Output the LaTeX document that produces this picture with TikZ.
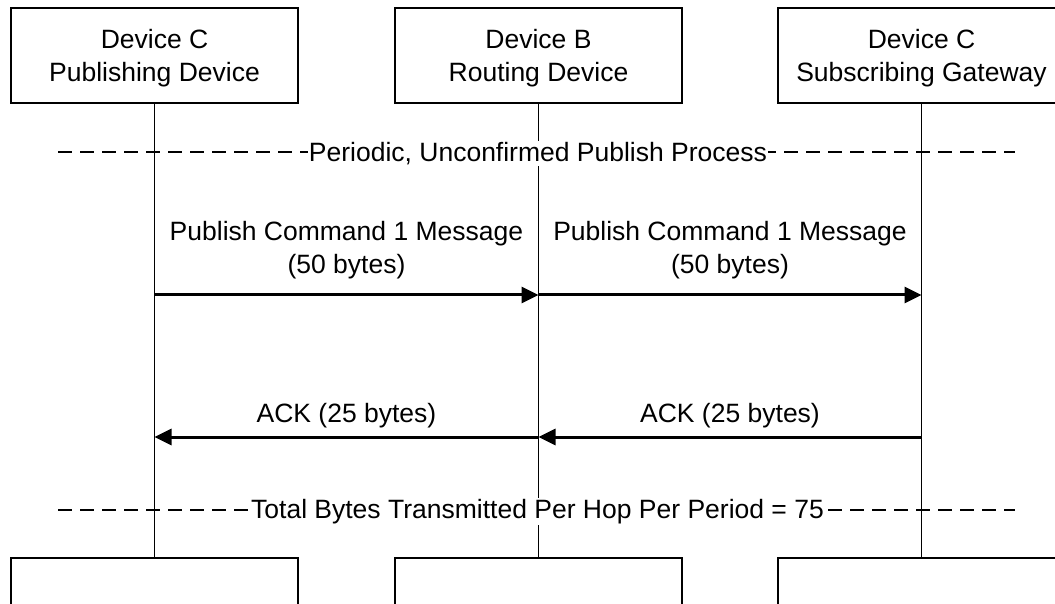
\documentclass[tikz,border=0pt]{standalone}
\usepackage{fontspec}
\setmainfont{Liberation Sans}
\usetikzlibrary{arrows.meta}

\newcommand{\boxstrut}{\rule{0pt}{12.2pt}}

\begin{document}
\begin{tikzpicture}[x=0.5pt,y=-0.5pt]
        \useasboundingbox (0,0) rectangle (1055,604);

        \begin{scope}[every node/.style={draw, line width=.75pt, minimum width=143.5pt, minimum height=47.5pt, inner sep=0, align=center, font=\fontsize{13.25}{16.5}\selectfont}]
          \node (pub)  at (154.5,55.5)  {\boxstrut Device C\\Publishing Device};
          \node (rout) at (538.5,55.5)  {\boxstrut Device B\\Routing Device};
          \node (sub)  at (921.5,55.5)  {\boxstrut Device C\\Subscribing Gateway};
          \node (pubend)  at (154.5,605.5) {};
          \node (routend) at (538.5,605.5) {};
          \node (subend)  at (921.5,605.5) {};
        \end{scope}

        % lifelines
        \begin{scope}[line width=.75pt]
          \draw (pub) -- (pubend);
          \draw (rout) -- (routend);
          \draw (sub) -- (subend);
        \end{scope}

        % phase separators
        \begin{scope}[every node/.style={fill=white, inner sep=.5pt, font=\fontsize{13.25}{16.5}\selectfont}]
          \draw[dash pattern=on 7pt off 4pt, line width=.75pt] (58,152) -- (1015,152);
          \node (period) at (538,153.5) {Periodic, Unconfirmed Publish Process};
          \draw[dash pattern=on 7pt off 4pt, line width=.75pt] (58,510) -- (1015,510);
          \node (total) at (537.5,511.5) {Total Bytes Transmitted Per Hop Per Period = 75};
        \end{scope}

        \coordinate (p1) at (154.5,295);
        \coordinate (r1) at (538.5,295);
        \coordinate (s1) at (921.5,295);
        \coordinate (p2) at (154.5,437);
        \coordinate (r2) at (538.5,437);
        \coordinate (s2) at (921.5,437);

        \begin{scope}[every node/.style={align=center, inner sep=0, font=\fontsize{13.25}{16.5}\selectfont}]
          \begin{scope}[every edge/.style={draw, line width=1.5pt, -{Triangle[length=8.5pt, width=8pt]}}]
            \path (p1) edge node[yshift=22.2pt] {Publish Command 1 Message\\(50 bytes)} (r1);
            \path (r1) edge node[yshift=22.2pt] {Publish Command 1 Message\\(50 bytes)} (s1);
            \path (s2) edge node[yshift=10.7pt] {ACK (25 bytes)} (r2);
            \path (r2) edge node[yshift=10.7pt] {ACK (25 bytes)} (p2);
          \end{scope}
        \end{scope}

      \end{tikzpicture}
\end{document}
